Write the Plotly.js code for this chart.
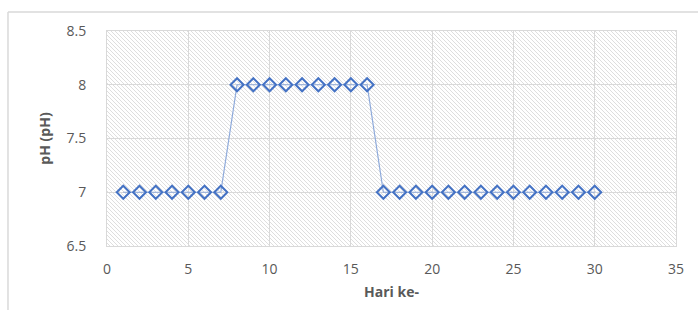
<!DOCTYPE html>
<html>
<head>
<meta charset="utf-8">
<script src="https://cdn.plot.ly/plotly-3.0.1.min.js"></script>
<style>html,body{margin:0;padding:0;background:#fff;}#chart{width:698px;height:310px;}</style>
</head>
<body>
<div id="chart"></div>
<script>
var days = [1,2,3,4,5,6,7,8,9,10,11,12,13,14,15,16,17,18,19,20,21,22,23,24,25,26,27,28,29,30];
var phValues = [7,7,7,7,7,7,7,8,8,8,8,8,8,8,8,8,7,7,7,7,7,7,7,7,7,7,7,7,7,7];
var xTicks = [0,5,10,15,20,25,30,35];
var yTicks = [6.5,7,7.5,8,8.5];

var svg = "<svg xmlns='http://www.w3.org/2000/svg' width='569' height='215'>" +
  "<defs><pattern id='p' width='4' height='4' patternUnits='userSpaceOnUse'>" +
  "<path d='M-1,-1 L5,5 M-1,3 L1,5 M3,-1 L5,1' stroke='#dedede' stroke-width='1'/></pattern></defs>" +
  "<rect width='569' height='215' fill='#ffffff'/><rect width='569' height='215' fill='url(#p)'/></svg>";
var bg = "data:image/svg+xml;charset=utf-8," + encodeURIComponent(svg);

var trace = {
  x: days, y: phValues, type: 'scatter', mode: 'lines+markers',
  line: {color: '#8eaadb', width: 1.2},
  marker: {symbol: 'diamond-open', size: 10, color: '#4472c4', line: {width: 2, color: '#4472c4'}},
  hoverinfo: 'x+y'
};

var tickFont = {family: 'Open Sans, Noto Sans, sans-serif', size: 14, color: '#595959'};
var layout = {
  width: 698, height: 310,
  margin: {l: 107, r: 22, t: 31, b: 64},
  paper_bgcolor: '#ffffff', plot_bgcolor: 'rgba(0,0,0,0)',
  showlegend: false,
  xaxis: {
    range: [0, 35], tickvals: xTicks, ticktext: xTicks.map(String),
    showgrid: true, gridcolor: '#d9d9d9', gridwidth: 1, zeroline: false,
    showline: true, mirror: true, linecolor: '#d9d9d9', linewidth: 1,
    ticks: '', ticklabelstandoff: 10, tickfont: tickFont,
    title: {text: 'Hari ke-', font: {family: 'Open Sans, Noto Sans, sans-serif', size: 14, color: '#595959', weight: 'bold'}, standoff: 10}
  },
  yaxis: {
    range: [6.5, 8.5], tickvals: yTicks, ticktext: yTicks.map(String),
    showgrid: true, gridcolor: '#d9d9d9', gridwidth: 1, zeroline: false,
    showline: true, mirror: true, linecolor: '#d9d9d9', linewidth: 1,
    ticks: '', ticklabelstandoff: 17, tickfont: tickFont,
    title: {text: 'pH (pH)', font: {family: 'Open Sans, Noto Sans, sans-serif', size: 14, color: '#595959', weight: 'bold'}, standoff: 12}
  },
  images: [{source: bg, xref: 'paper', yref: 'paper', x: 0, y: 1, sizex: 1, sizey: 1,
            sizing: 'stretch', xanchor: 'left', yanchor: 'top', layer: 'below'}],
  shapes: [
    {type: 'line', xref: 'paper', yref: 'paper', x0: -0.174, x1: 1.1, y0: 1.088, y1: 1.088, line: {color: '#d9d9d9', width: 1.5}},
    {type: 'line', xref: 'paper', yref: 'paper', x0: -0.174, x1: -0.174, y0: 1.088, y1: -0.4, line: {color: '#d9d9d9', width: 1.5}}
  ]
};

Plotly.newPlot('chart', [trace], layout, {displayModeBar: false, staticPlot: true});
</script>
</body>
</html>
